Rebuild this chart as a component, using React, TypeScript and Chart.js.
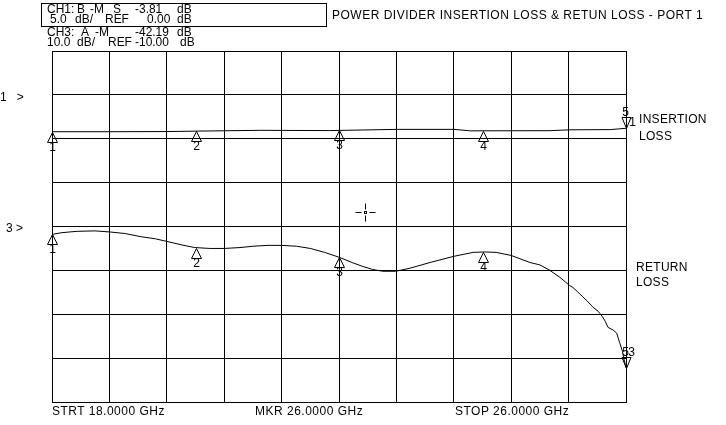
import React, { useEffect, useRef } from 'react';
import { Chart, registerables, Plugin } from 'chart.js';

Chart.register(...registerables);

// sweep: 18 - 26 GHz, 10 divisions
const sweepStart = 18;
const sweepStop = 26;

// CH1 (insertion loss), 5 dB/div, ref 0 dB one division below top
const insFreq = [18.0, 18.81, 19.6, 20.02, 20.91, 21.87, 22.81, 23.6, 23.83, 24.94, 25.22, 25.78, 26.0];
const insLoss = [-4.2, -4.2, -4.18, -4.13, -4.04, -4.07, -3.93, -3.93, -4.1, -4.08, -3.98, -3.96, -3.81];

// CH3 (return loss), 10 dB/div, ref -10 dB at centre line
const rlFreq = [
  18.0, 18.14, 18.35, 18.6, 18.81, 19.02, 19.23, 19.44, 19.6, 19.81, 19.99, 20.2, 20.4, 20.62, 20.8,
  21.01, 21.2, 21.41, 21.6, 21.8, 22.0, 22.18, 22.33, 22.47, 22.61, 22.79, 22.99, 23.27, 23.6, 23.87,
  24.03, 24.19, 24.4, 24.66, 24.8, 24.94, 25.08, 25.21, 25.26, 25.32, 25.39, 25.46, 25.54, 25.61,
  25.67, 25.71, 25.75, 25.82, 25.87, 25.91, 25.95, 25.97, 25.99, 26.0,
];
const rlLoss = [
  -11.8, -11.4, -11.1, -11.0, -11.25, -11.6, -12.3, -12.8, -13.4, -14.2, -14.8, -15.0, -15.0, -14.8, -14.5,
  -14.3, -14.3, -14.5, -15.0, -15.9, -17.0, -18.2, -19.1, -19.8, -20.2, -20.2, -19.5, -18.2, -16.8, -15.9,
  -15.8, -15.9, -16.6, -18.2, -18.75, -20.0, -21.6, -23.4, -23.9, -24.8, -25.9, -27.0, -28.4, -29.3,
  -30.5, -31.6, -33.0, -33.6, -34.3, -36.4, -38.4, -40.2, -41.4, -42.19,
];

// markers 1..5, marker 5 is the active one
const markerFreqs = [18, 20, 22, 24, 26];
const insMarkers = [-4.2, -4.13, -4.05, -4.1, -3.81];
const rlMarkers = [-11.8, -14.8, -17.0, -15.8, -42.19];

// graticule cursor (freq GHz, CH1 dB)
const cursorPos = [22.36, -13.3];

const FONT = '"Liberation Sans", Arial, sans-serif';

const markerPlugin: Plugin<'line'> = {
  id: 'vnaMarkers',
  afterDatasetsDraw(chart) {
    const { ctx, scales } = chart;
    const xs = scales.x;
    const traces = [
      { axis: 'y', values: insMarkers, ch: '1' },
      { axis: 'y3', values: rlMarkers, ch: '3' },
    ];
    ctx.save();
    ctx.strokeStyle = '#000';
    ctx.fillStyle = '#000';
    ctx.lineWidth = 1;
    ctx.font = `12px ${FONT}`;
    ctx.textAlign = 'center';
    ctx.textBaseline = 'top';
    traces.forEach(tr => {
      const ys = scales[tr.axis];
      markerFreqs.forEach((f, i) => {
        const px = Math.round(xs.getPixelForValue(f)) + 0.5;
        const py = Math.round(ys.getPixelForValue(tr.values[i])) + 0.5;
        ctx.beginPath();
        if (i === markerFreqs.length - 1) {
          // active marker: inverted triangle above the trace
          ctx.moveTo(px, py);
          ctx.lineTo(px - 4.5, py - 11);
          ctx.lineTo(px + 4.5, py - 11);
          ctx.closePath();
          ctx.stroke();
          if (tr.ch === '1') {
            ctx.fillText('5', px - 1, py - 22);
            ctx.fillText(tr.ch, px + 6, py - 12);
          } else {
            ctx.fillText('5', px - 1, py - 22);
            ctx.fillText(tr.ch, px + 5, py - 22);
          }
        } else {
          ctx.moveTo(px, py);
          ctx.lineTo(px - 5, py + 10);
          ctx.lineTo(px + 5, py + 10);
          ctx.closePath();
          ctx.stroke();
          ctx.fillText(String(i + 1), px, py + 9);
        }
      });
    });

    // small cross cursor
    const cx = Math.round(xs.getPixelForValue(cursorPos[0])) + 0.5;
    const cy = Math.round(scales.y.getPixelForValue(cursorPos[1])) + 0.5;
    ctx.beginPath();
    ctx.moveTo(cx, cy - 9);
    ctx.lineTo(cx, cy - 3);
    ctx.moveTo(cx, cy + 3);
    ctx.lineTo(cx, cy + 9);
    ctx.moveTo(cx - 10, cy);
    ctx.lineTo(cx - 4, cy);
    ctx.moveTo(cx + 4, cy);
    ctx.lineTo(cx + 10, cy);
    ctx.stroke();
    ctx.strokeRect(cx - 1, cy - 1, 2, 2);
    ctx.restore();
  },
};

const txt: React.CSSProperties = {
  position: 'absolute',
  font: `12px ${FONT}`,
  lineHeight: '12px',
  whiteSpace: 'pre',
  color: '#000',
};

const hdr: React.CSSProperties = {
  ...txt,
  font: `13px ${FONT}`,
  lineHeight: '12px',
  transform: 'scaleX(0.92)',
  transformOrigin: 'left top',
};

// header tokens: [text, left, top]
const headerTokens: [string, number, number][] = [
  ['CH1:', 47, 3], ['B', 77, 3], ['-M', 90, 3], ['S', 113, 3], ['-3.81', 135, 3], ['dB', 177, 3],
  ['5.0', 50, 12.5], ['dB/', 75, 12.5], ['REF', 105, 12.5], ['0.00', 147, 12.5], ['dB', 177, 12.5],
  ['CH3:', 47, 26], ['A', 81, 26], ['-M', 95, 26], ['-42.19', 135, 26], ['dB', 177, 26],
  ['10.0', 47, 36], ['dB/', 77, 36], ['REF', 108, 36], ['-10.00', 135, 36], ['dB', 180, 36],
];

export default function App() {
  const canvasRef = useRef<HTMLCanvasElement>(null);
  const chartRef = useRef<Chart | null>(null);

  useEffect(() => {
    if (!canvasRef.current) return;
    chartRef.current = new Chart(canvasRef.current, {
      type: 'line',
      data: {
        datasets: [
          {
            label: 'INSERTION LOSS',
            data: insFreq.map((f, i) => ({ x: f, y: insLoss[i] })),
            yAxisID: 'y',
            borderColor: '#000',
            borderWidth: 1,
            pointRadius: 0,
            tension: 0,
          },
          {
            label: 'RETURN LOSS',
            data: rlFreq.map((f, i) => ({ x: f, y: rlLoss[i] })),
            yAxisID: 'y3',
            borderColor: '#000',
            borderWidth: 1,
            pointRadius: 0,
            tension: 0,
          },
        ],
      },
      options: {
        animation: false,
        responsive: true,
        maintainAspectRatio: false,
        layout: { padding: { left: 52, top: 51, right: 100, bottom: 23 } },
        plugins: { legend: { display: false }, tooltip: { enabled: false } },
        scales: {
          x: {
            type: 'linear',
            min: sweepStart,
            max: sweepStop,
            ticks: { display: false, count: 11 },
            grid: { color: '#000', lineWidth: 1, drawTicks: false },
            border: { color: '#000', width: 1 },
          },
          y: {
            type: 'linear',
            min: -35,
            max: 5,
            ticks: { display: false, stepSize: 5 },
            grid: { color: '#000', lineWidth: 1, drawTicks: false },
            border: { color: '#000', width: 1 },
          },
          y3: {
            type: 'linear',
            display: false,
            min: -50,
            max: 30,
          },
        },
      },
      plugins: [markerPlugin],
    });
    return () => {
      chartRef.current?.destroy();
      chartRef.current = null;
    };
  }, []);

  return (
    <div style={{ position: 'absolute', left: 0, top: 0, width: 726, height: 425, background: '#fff', overflow: 'hidden' }}>
      <canvas ref={canvasRef} />
      <div style={{ position: 'absolute', left: 41, top: 3, width: 284, height: 22, border: '1px solid #000' }} />
      {headerTokens.map(([t, l, tp], i) => (
        <div key={i} style={{ ...hdr, left: l, top: tp }}>{t}</div>
      ))}
      <div style={{ ...txt, left: 332, top: 8.5, letterSpacing: '0.5px' }}>POWER DIVIDER INSERTION LOSS &amp; RETUN LOSS - PORT 1</div>
      <div style={{ ...txt, left: 0, top: 91 }}>1   &gt;</div>
      <div style={{ ...txt, left: 6, top: 221.5 }}>3 &gt;</div>
      <div style={{ ...txt, left: 639, top: 113, letterSpacing: '0.3px' }}>INSERTION</div>
      <div style={{ ...txt, left: 639, top: 130, letterSpacing: '0.3px' }}>LOSS</div>
      <div style={{ ...txt, left: 636, top: 260.5, letterSpacing: '0.3px' }}>RETURN</div>
      <div style={{ ...txt, left: 636, top: 275.5, letterSpacing: '0.3px' }}>LOSS</div>
      <div style={{ ...txt, left: 52, top: 404.5, letterSpacing: '0.5px' }}>STRT 18.0000 GHz</div>
      <div style={{ ...txt, left: 255, top: 404.5, letterSpacing: '0.5px' }}>MKR 26.0000 GHz</div>
      <div style={{ ...txt, left: 455, top: 404.5, letterSpacing: '0.5px' }}>STOP 26.0000 GHz</div>
    </div>
  );
}
